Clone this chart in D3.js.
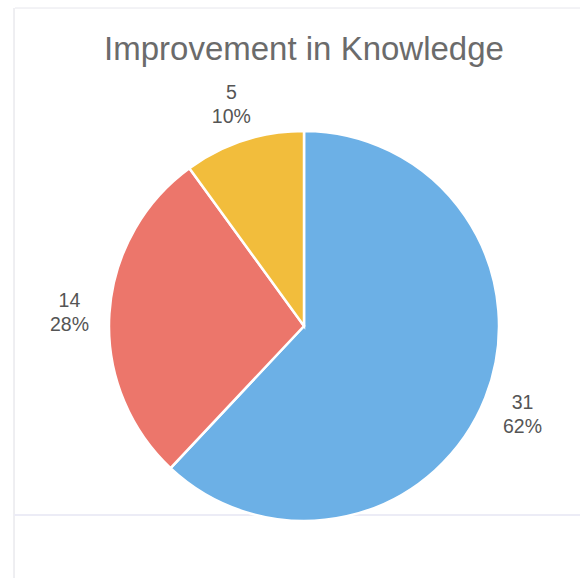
<!DOCTYPE html>
<html>
<head>
<meta charset="utf-8">
<script src="https://cdn.jsdelivr.net/npm/d3@7"></script>
<style>
  body { margin: 0; background: #fff; }
</style>
</head>
<body>
<div id="chart"></div>
<script>
const width = 580
const height = 578

const categories = ["Improved", "Somewhat", "No change"]
const values = [31, 14, 5]
const percents = ["62%", "28%", "10%"]
const colors = ["#6cb0e6", "#ec766b", "#f2bd3c"]

const cx = 304
const cy = 326
const radius = 195

const svg = d3.select("div#chart").append("svg").attr("width", width).attr("height", height)

// faint scan frame
svg.append("line").attr("x1", 15).attr("y1", 8).attr("x2", 580).attr("y2", 8)
    .attr("stroke", "#e6e6ec").attr("stroke-width", 1)
svg.append("line").attr("x1", 14).attr("y1", 8).attr("x2", 14).attr("y2", 578)
    .attr("stroke", "#dedee4").attr("stroke-width", 1)
svg.append("line").attr("x1", 14).attr("y1", 515).attr("x2", 580).attr("y2", 515)
    .attr("stroke", "#ececf6").attr("stroke-width", 2)

svg.append("text").text("Improvement in Knowledge")
    .attr("x", 304).attr("y", 60)
    .attr("text-anchor", "middle")
    .attr("font-family", "'Liberation Sans', Arial, sans-serif")
    .attr("font-size", 33)
    .attr("fill", "#6b6b6b")

const pie = d3.pie().sort(null).value(d => d)
const arcs = pie(values)
const arc = d3.arc().innerRadius(0).outerRadius(radius)

const g = svg.append("g").attr("transform", `translate(${cx}, ${cy})`)

g.selectAll("path").data(arcs).enter()
    .append("path")
    .attr("d", arc)
    .attr("fill", (d, i) => colors[i])
    .attr("stroke", "#fff")
    .attr("stroke-width", 2.5)

// labels sit outside the pie
const labelArc = d3.arc().innerRadius(radius + 40).outerRadius(radius + 40)
const labels = g.selectAll("g.lbl").data(arcs).enter()
    .append("g").attr("class", "lbl")
    .attr("transform", d => {
        const [x, y] = labelArc.centroid(d)
        return `translate(${x}, ${y})`
    })

labels.append("text").text((d, i) => values[i])
    .attr("text-anchor", "middle").attr("y", -4)
    .attr("font-family", "'Liberation Sans', Arial, sans-serif")
    .attr("font-size", 19.5).attr("fill", "#555")
labels.append("text").text((d, i) => percents[i])
    .attr("text-anchor", "middle").attr("y", 20)
    .attr("font-family", "'Liberation Sans', Arial, sans-serif")
    .attr("font-size", 19.5).attr("fill", "#555")
</script>
</body>
</html>
